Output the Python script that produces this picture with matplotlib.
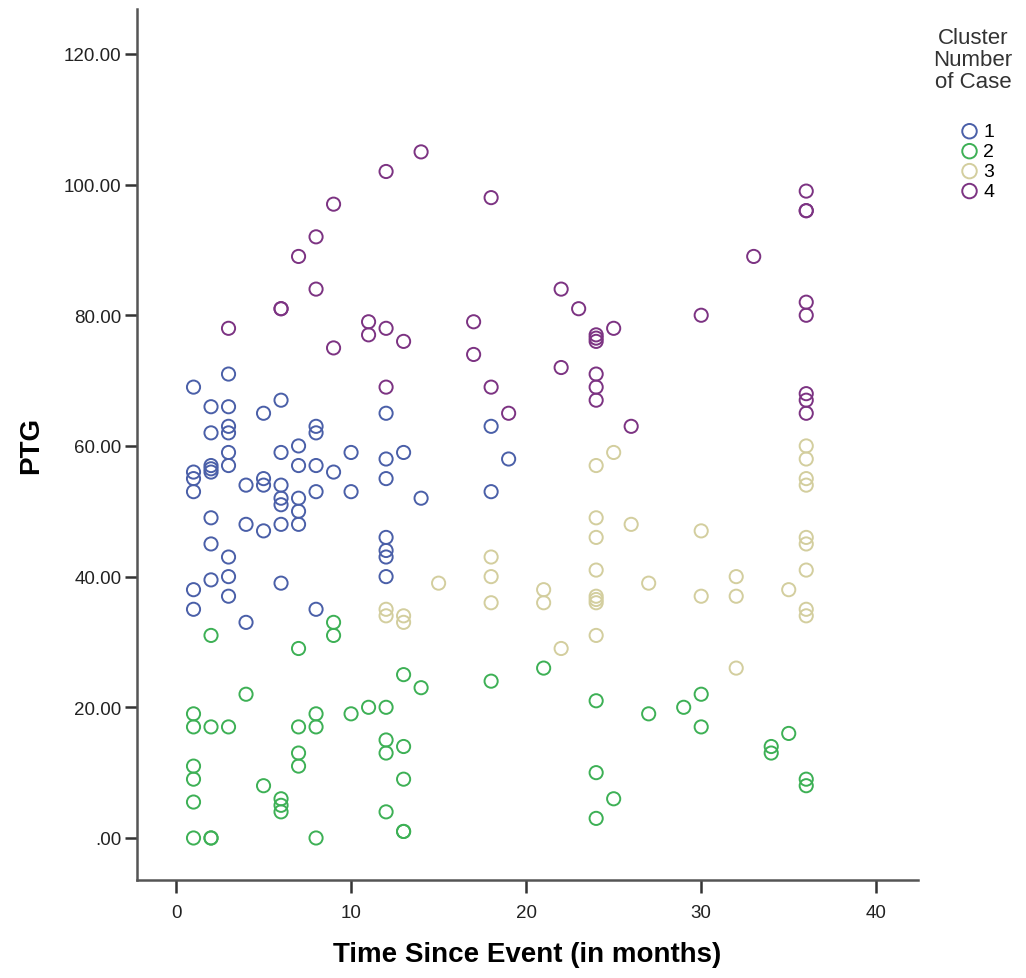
import numpy as np
import matplotlib
matplotlib.use('Agg')
import matplotlib.pyplot as plt
from matplotlib.ticker import FuncFormatter

plt.rcParams['font.family'] = ['Liberation Sans', 'DejaVu Sans']

# cluster 1
c1_months = [1, 1, 1, 1, 1, 1,
             2, 2, 2, 2, 2, 2, 2, 2,
             3, 3, 3, 3, 3, 3, 3, 3, 3,
             4, 4, 4,
             5, 5, 5, 5,
             6, 6, 6, 6, 6, 6, 6,
             7, 7, 7, 7, 7,
             8, 8, 8, 8, 8,
             9,
             10, 10,
             12, 12, 12, 12, 12, 12, 12,
             13, 14, 18, 18, 19]
c1_ptg = [69, 56, 55, 53, 38, 35,
          66, 62, 57, 56.5, 56, 49, 45, 39.5,
          71, 66, 63, 62, 59, 57, 43, 40, 37,
          54, 48, 33,
          65, 55, 54, 47,
          67, 59, 54, 52, 51, 48, 39,
          60, 57, 52, 50, 48,
          63, 62, 57, 53, 35,
          56,
          59, 53,
          65, 58, 55, 46, 44, 43, 40,
          59, 52, 63, 53, 58]

# cluster 2
c2_months = [1, 1, 1, 1, 1, 1,
             2, 2, 2, 2,
             3, 4, 5,
             6, 6, 6,
             7, 7, 7, 7,
             8, 8, 8,
             9, 9, 10, 11,
             12, 12, 12, 12,
             13, 13, 13, 13, 13,
             14, 18, 21,
             24, 24, 24,
             25, 27, 29, 30, 30, 34, 34, 35, 36, 36]
c2_ptg = [19, 17, 11, 9, 5.5, 0,
          31, 17, 0, 0,
          17, 22, 8,
          6, 5, 4,
          29, 17, 13, 11,
          19, 17, 0,
          33, 31, 19, 20,
          20, 15, 13, 4,
          25, 14, 9, 1, 1,
          23, 24, 26,
          21, 10, 3,
          6, 19, 20, 22, 17, 14, 13, 16, 9, 8]

# cluster 3
c3_months = [12, 12, 13, 13, 15,
             18, 18, 18, 21, 21, 22,
             24, 24, 24, 24, 24, 24, 24, 24,
             25, 26, 27, 30, 30, 32, 32, 32, 35,
             36, 36, 36, 36, 36, 36, 36, 36, 36]
c3_ptg = [35, 34, 34, 33, 39,
          43, 40, 36, 38, 36, 29,
          57, 49, 46, 41, 37, 36.5, 36, 31,
          59, 48, 39, 47, 37, 40, 37, 26, 38,
          60, 58, 55, 54, 46, 45, 41, 35, 34]

# cluster 4
c4_months = [3, 6, 6, 7, 8, 8, 9, 9, 11, 11,
             12, 12, 12, 13, 14, 17, 17, 18, 18, 19,
             22, 22, 23, 24, 24, 24, 24, 24, 24,
             25, 26, 30, 33,
             36, 36, 36, 36, 36, 36, 36, 36]
c4_ptg = [78, 81, 81, 89, 92, 84, 97, 75, 79, 77,
          102, 78, 69, 76, 105, 79, 74, 98, 69, 65,
          84, 72, 81, 77, 76.5, 76, 71, 69, 67,
          78, 63, 80, 89,
          99, 96, 96, 82, 80, 68, 67, 65]

cluster_labels = ['1', '2', '3', '4']
cluster_colors = ['#4A5FA8', '#3DB055', '#D3CE9E', '#7C3382']

fig = plt.figure(figsize=(10.26, 9.79), dpi=100)
ax = fig.add_axes([0.1335, 0.1001, 0.7615, 0.8899])

data = [(c1_months, c1_ptg), (c2_months, c2_ptg), (c3_months, c3_ptg), (c4_months, c4_ptg)]
for (xs, ys), lab, col in zip(data, cluster_labels, cluster_colors):
    ax.scatter(xs, ys, s=90, facecolors='none', edgecolors=col, linewidths=1.4, label=lab, zorder=3)

ax.set_xlim(-2.23, 42.4)
ax.set_ylim(-6.43, 126.9)
ax.set_xticks([0, 10, 20, 30, 40])
ax.set_yticks([0, 20, 40, 60, 80, 100, 120])
ax.yaxis.set_major_formatter(FuncFormatter(lambda v, p: '.00' if v == 0 else f'{v:.2f}'))

for s in ['top', 'right']:
    ax.spines[s].set_visible(False)
for s in ['left', 'bottom']:
    ax.spines[s].set_color('#555555')
    ax.spines[s].set_linewidth(1.8)
ax.tick_params(axis='both', length=9, width=1.8, color='#333333', labelsize=13.5, labelcolor='#222222')
ax.tick_params(axis='x', pad=8)
ax.tick_params(axis='y', pad=2)

ax.set_xlabel('Time Since Event (in months)', fontsize=20, fontweight='bold', labelpad=15)
ax.set_ylabel('PTG', fontsize=20, fontweight='bold', labelpad=14)

# legend title drawn on its own, entries below it
fig.text(973 / 1026, 1 - 28 / 979, 'Cluster\nNumber\nof Case', ha='center', va='top',
         fontsize=16, color='#333333', linespacing=1.06, multialignment='center')
leg = fig.legend(loc='upper center', bbox_to_anchor=(975 / 1026, 1 - 114 / 979),
                 fontsize=14, frameon=False, handletextpad=0.0, labelspacing=0.12,
                 borderpad=0, markerscale=1.1, handlelength=1.4)

plt.savefig('out.png', dpi=100)
